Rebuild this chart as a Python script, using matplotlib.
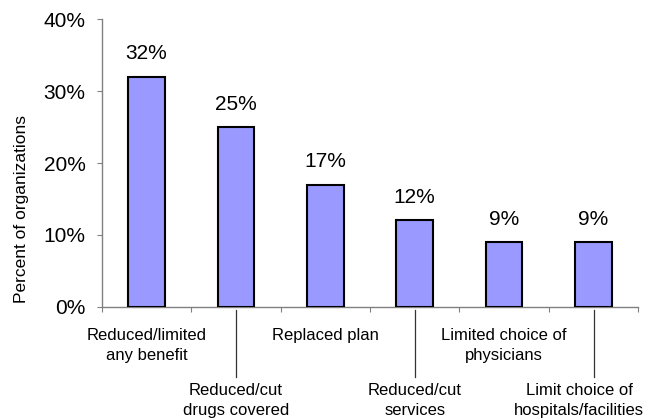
import matplotlib.pyplot as plt
from matplotlib.ticker import FuncFormatter

plt.rcParams["font.family"] = ["Liberation Sans", "DejaVu Sans"]

categories = [
    "Reduced/limited\nany benefit",
    "Reduced/cut\ndrugs covered",
    "Replaced plan",
    "Reduced/cut\nservices",
    "Limited choice of\nphysicians",
    "Limit choice of\nhospitals/facilities",
]
percents = [32, 25, 17, 12, 9, 9]
yticks = [0, 10, 20, 30, 40]

W, H = 649, 419
fig = plt.figure(figsize=(W / 100, H / 100), dpi=100)
ax_box = [101.7 / W, 1 - 306.7 / H, 536.6 / W, 287.4 / H]
ax = fig.add_axes(ax_box)

x = list(range(len(categories)))
bars = ax.bar(x, percents, width=0.41, color="#9999ff", edgecolor="black", linewidth=1.5, zorder=3)

for rect, v in zip(bars, percents):
    ax.annotate(f"{v}%", (rect.get_x() + rect.get_width() / 2, v),
                xytext=(0, 12.5), textcoords="offset points",
                ha="center", va="baseline", fontsize=15)

ax.set_xlim(-0.5, len(categories) - 0.5)
ax.set_ylim(0, 40)
ax.set_yticks(yticks)
ax.yaxis.set_major_formatter(FuncFormatter(lambda v, _: f"{v:.0f}%"))
ax.tick_params(axis="y", labelsize=15, length=3.5, color="#808080", direction="out", pad=8)

# ticks sit on category boundaries; labels are placed by hand below
ax.set_xticks([i - 0.5 for i in range(len(categories) + 1)])
ax.set_xticklabels([])
ax.tick_params(axis="x", length=3.5, color="#808080", direction="out")

for s in ("top", "right"):
    ax.spines[s].set_visible(False)
for s in ("left", "bottom"):
    ax.spines[s].set_color("#808080")
    ax.spines[s].set_linewidth(1.0)

trans = ax.get_xaxis_transform()
ax_h = ax_box[3] * H
pitch = 20  # px between label lines
for i, label in enumerate(categories):
    n = label.count("\n")
    # the last label is nudged left so it stays inside the figure
    lx = i - 0.16 if i == len(categories) - 1 else i
    if i % 2 == 0:
        base = 33.3
    else:
        base = 88.5
        ax.plot([i, i], [-3.5 / ax_h, -70 / ax_h], transform=trans, color="#333333",
                linewidth=0.9, clip_on=False)
    ax.text(lx, -(base + n * pitch) / ax_h, label, transform=trans, ha="center",
            va="baseline", fontsize=12, linespacing=1.45)

fig.text(22 / W, 1 - 209 / H, "Percent of organizations", rotation=90,
         ha="center", va="center", fontsize=12.5)

fig.savefig("out.png", dpi=100)
